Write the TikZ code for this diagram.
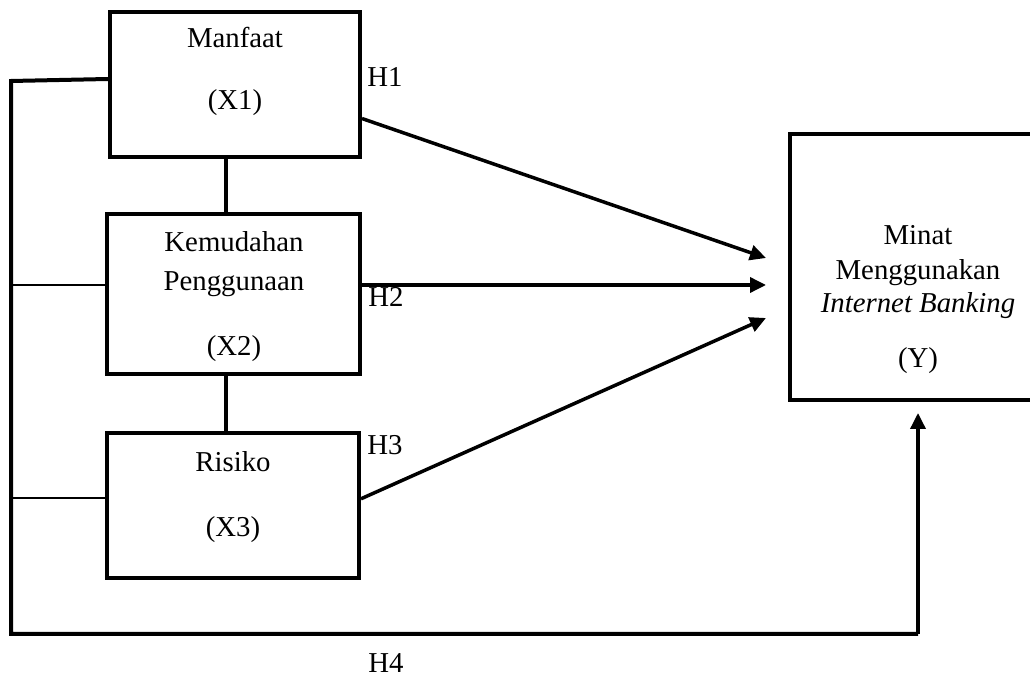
\documentclass[tikz,border=0pt]{standalone}
\usepackage{fontspec}
\setmainfont{Liberation Serif}
\usetikzlibrary{arrows.meta}

\tikzset{
  varbox/.style={draw, line width=2pt, inner sep=0pt},
  lbl/.style={anchor=base, inner sep=0pt},
  link/.style={line width=2pt},
  thinlink/.style={line width=0.75pt},
  effect/.style={line width=1.75pt, -{Triangle[length=8pt,width=7.5pt]}}
}

\begin{document}
\begin{tikzpicture}[x=0.5pt, y=-0.5pt, font=\fontsize{14.4}{17}\selectfont]

\useasboundingbox (0,0) rectangle (1030,679);

% Independent variables
\node[varbox, minimum width=125pt, minimum height=72.5pt] (x1) at (235,84.5) {};
\node[varbox, minimum width=126.5pt, minimum height=80pt] (x2) at (233.5,294) {};
\node[varbox, minimum width=126pt, minimum height=72.5pt] (x3) at (233,505.5) {};

\node[lbl] (x1a) at (235,48) {Manfaat};
\node[lbl] (x1b) at (235,110) {(X1)};
\node[lbl] (x2a) at (234,252) {Kemudahan};
\node[lbl] (x2b) at (234,291) {Penggunaan};
\node[lbl] (x2c) at (234,356) {(X2)};
\node[lbl] (x3a) at (233,472) {Risiko};
\node[lbl] (x3b) at (233,537) {(X3)};

% Dependent variable
\node[varbox, minimum width=127.5pt, minimum height=133pt] (y) at (917.5,267) {};
\node[lbl] (ya) at (918,245) {Minat};
\node[lbl] (yb) at (918,280) {Menggunakan};
\node[lbl] (yc) at (918,313) {\textit{Internet Banking}};
\node[lbl] (yd) at (918,368) {(Y)};

% Hypotheses
\node[lbl] (h1) at (385,87) {H1};
\node[lbl] (h2) at (386,307) {H2};
\node[lbl] (h3) at (385,455) {H3};
\node[lbl] (h4) at (386,673) {H4};

% Links between X boxes
\coordinate (mid) at (226,0);
\draw[link] (x1.south -| mid) -- (x2.north -| mid);
\draw[link] (x2.south -| mid) -- (x3.north -| mid);

% Partial effects
\coordinate (t1) at (766,258);
\coordinate (t2) at (766,285);
\coordinate (t3) at (766,318);
\draw[effect] (x1.-15) -- (t1);
\draw[effect] (x2.east |- t2) -- (t2);
\draw[effect] (x3.3.4) -- (t3);

% Simultaneous effect
\coordinate (r0) at (11,81);
\coordinate (r2) at (11,285);
\coordinate (r3) at (11,498);
\coordinate (rb) at (11,634);
\coordinate (t4) at (918,413);
\draw[thinlink] (r2) -- (x2.west |- r2);
\draw[thinlink] (r3) -- (x3.west |- r3);
\draw[link] (x1.west |- 0,79) -- (r0) -- (rb) -- (rb -| t4);
\draw[effect] (rb -| t4) -- (t4);

\end{tikzpicture}
\end{document}
